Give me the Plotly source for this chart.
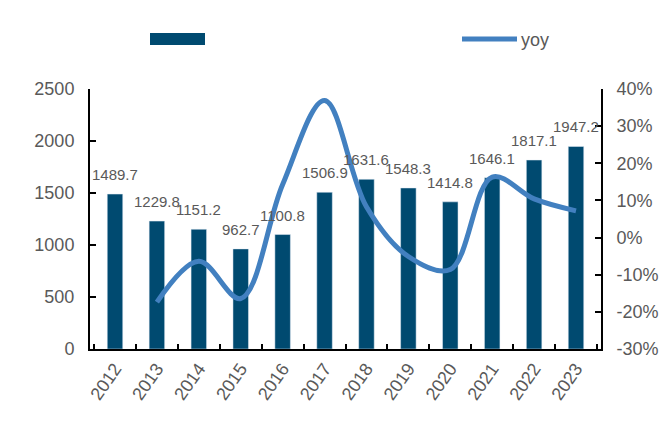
import plotly.graph_objects as go

years = ["2012", "2013", "2014", "2015", "2016", "2017", "2018", "2019", "2020", "2021", "2022", "2023"]
values = [1489.7, 1229.8, 1151.2, 962.7, 1100.8, 1506.9, 1631.6, 1548.3, 1414.8, 1646.1, 1817.1, 1947.2]
yoy_years = ["2013", "2014", "2015", "2016", "2017", "2018", "2019", "2020", "2021", "2022", "2023"]
yoy = [-0.174, -0.064, -0.164, 0.143, 0.369, 0.083, -0.051, -0.086, 0.163, 0.104, 0.072]
yoy_tickvals = [-0.3, -0.2, -0.1, 0.0, 0.1, 0.2, 0.3, 0.4]
yoy_ticklabels = ["-30%", "-20%", "-10%", "0%", "10%", "20%", "30%", "40%"]

BAR = "#004A70"
LINE = "#4280C0"
GRAY = "#595959"
FONT = "Liberation Sans, Arial, sans-serif"

fig = go.Figure()
fig.add_trace(go.Bar(
    x=years, y=values, name="", marker_color=BAR, width=0.37, showlegend=False,
))
fig.add_trace(go.Scatter(
    x=yoy_years, y=yoy, name="yoy", mode="lines", yaxis="y2",
    line=dict(color=LINE, width=5, shape="spline", smoothing=1.0),
    showlegend=False,
))

axis_common = dict(showline=True, linecolor="black", linewidth=2, ticks="inside",
                   tickcolor="black", tickwidth=2, ticklen=6, showgrid=False, zeroline=False,
                   tickfont=dict(size=18, color=GRAY, family=FONT))

# category axis: annotation x given as category index
annotations = [
    dict(x=i, y=v, xref="x", yref="y", text=f"{v:.1f}", showarrow=False,
         yanchor="bottom", xanchor="center", yshift=9,
         font=dict(size=15, color=GRAY, family=FONT))
    for i, v in enumerate(values)
]
annotations.append(
    dict(text="yoy", xref="paper", yref="paper", x=(519 - 90) / 511, y=(349 - 40) / 260,
         xanchor="left", yanchor="middle", showarrow=False,
         font=dict(size=18, color=GRAY, family=FONT))
)

fig.update_layout(
    width=667, height=425,
    margin=dict(l=90, r=66, t=89, b=76),
    plot_bgcolor="white", paper_bgcolor="white",
    xaxis=dict(axis_common, type="category", tickangle=-55, tickson="boundaries", ticklen=5,
               automargin=False),
    yaxis=dict(axis_common, range=[0, 2500], dtick=500, automargin=False, ticklabelstandoff=10),
    yaxis2=dict(axis_common, range=[-0.3, 0.4], tickvals=yoy_tickvals, ticktext=yoy_ticklabels,
                overlaying="y", side="right", automargin=False, ticklabelstandoff=10),
    shapes=[
        dict(type="rect", xref="paper", yref="paper", x0=(150 - 90) / 511, x1=(205 - 90) / 511,
             y0=(349 - 45) / 260, y1=(349 - 33) / 260, fillcolor=BAR, line=dict(width=0)),
        dict(type="path", xref="paper", yref="paper",
             path="M {0},{2} L {1},{2}".format((462 - 90) / 511, (517 - 90) / 511, (349 - 39) / 260),
             line=dict(color=LINE, width=5)),
    ],
    annotations=annotations,
)

fig.write_html("out.html", config={"displayModeBar": False},
               post_script="document.body.style.margin='0';")
